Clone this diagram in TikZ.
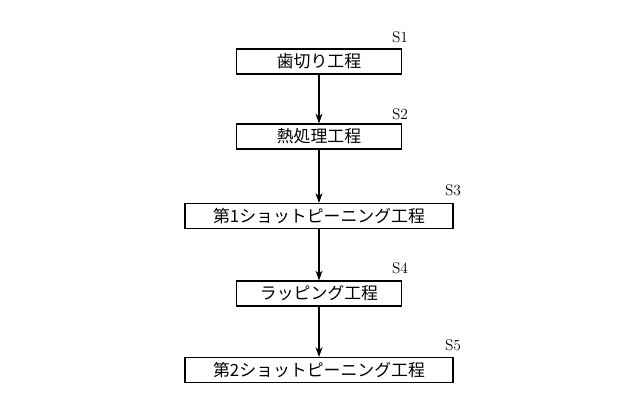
\documentclass[tikz,border=0pt]{standalone}
\usepackage{fontspec}
\newfontfamily\cjk{Noto Sans CJK JP}
\usetikzlibrary{positioning,arrows.meta}
\tikzset{
  stepbox/.style={draw, line width=0.8pt, minimum height=0.625cm, inner sep=0pt, font=\cjk\fontsize{12}{14}\selectfont},
  narrowbox/.style={stepbox, minimum width=4.125cm},
  widebox/.style={stepbox, minimum width=6.7cm},
  steplabel/.style={font=\fontsize{11}{13}\selectfont},
}
\begin{document}
\begin{tikzpicture}[x=0.025cm,y=-0.025cm]
			\useasboundingbox (0,0) rectangle (640,412);
			\node (b1) at (319,61.5) [narrowbox] {歯切り工程};
			\node (b2) at (319,136.5) [narrowbox] {熱処理工程};
			\node (b3) at (319,216) [widebox] {第1ショットピーニング工程};
			\node (b4) at (319,293.5) [narrowbox] {ラッピング工程};
			\node (b5) at (319,370) [widebox] {第2ショットピーニング工程};
			\node (s1) at (400,37) [steplabel] {S1};
			\node (s2) at (400,114) [steplabel] {S2};
			\node (s3) at (453,190) [steplabel] {S3};
			\node (s4) at (400,268) [steplabel] {S4};
			\node (s5) at (453,345) [steplabel] {S5};
			
			\draw[line width=0.8pt]
			(b1) edge[-{Stealth[length=7pt,width=5pt]}] (b2)
			(b2) edge[-{Stealth[length=7pt,width=5pt]}] (b3)
			(b3) edge[-{Stealth[length=7pt,width=5pt]}] (b4)
			(b4) edge[-{Stealth[length=7pt,width=5pt]}] (b5)
			;
\end{tikzpicture}
\end{document}
